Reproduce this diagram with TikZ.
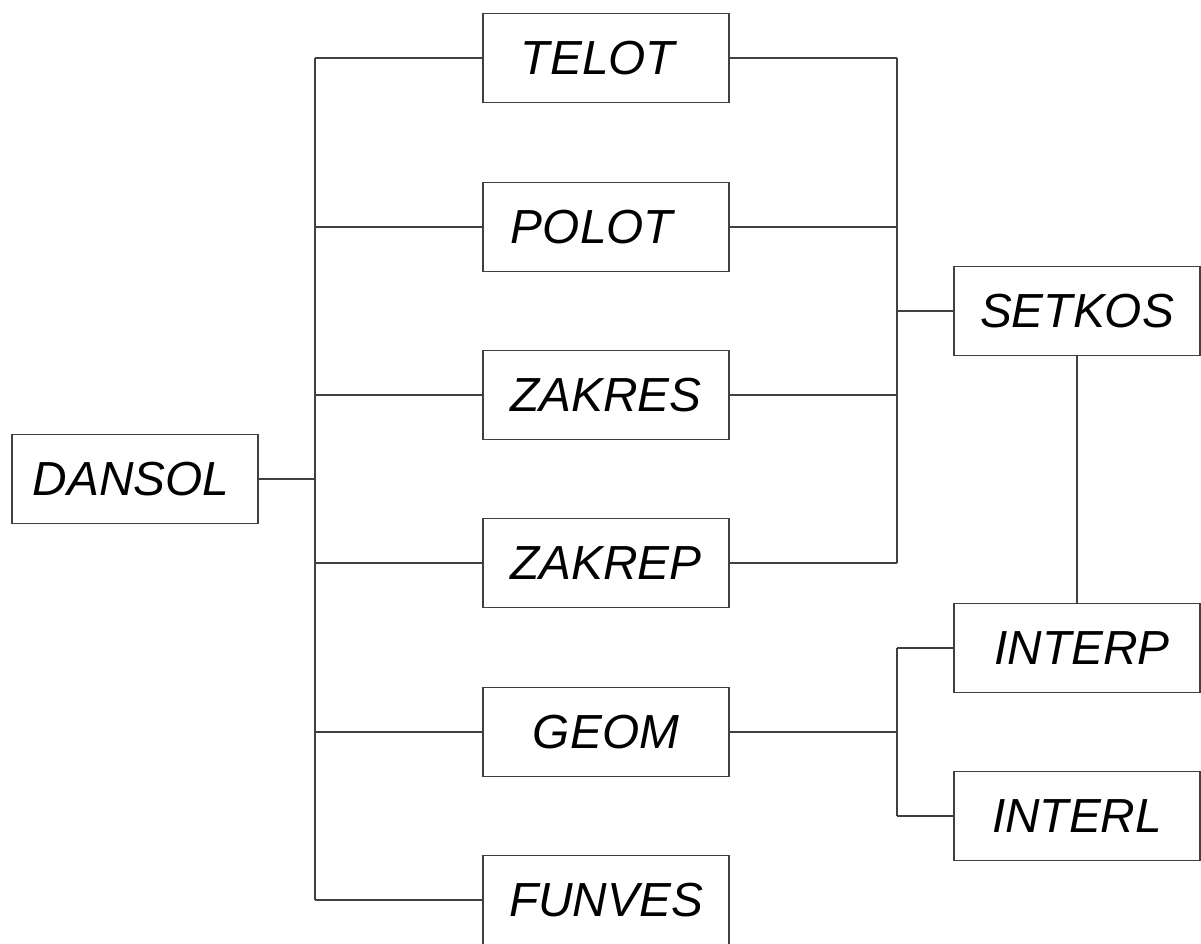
\documentclass[tikz,border=0pt]{standalone}
\usepackage{fontspec}
\setmainfont{Liberation Sans}
\usepackage{tikz}
\usetikzlibrary{positioning, calc}

\begin{document}
\begin{tikzpicture}[x=0.025cm, y=-0.025cm,
    modbox/.style={draw=black!75, line width=1pt, minimum width=6.15cm, minimum height=2.225cm,
        inner sep=0pt, font=\itshape\fontsize{34}{40}\selectfont},
    link/.style={draw=black!75, line width=1pt}]
    \useasboundingbox (0,0) rectangle (1201,943);
    \clip (0,0) rectangle (1201,943);

    % Boxes
    \node[modbox] (dansol) at (135, 479) {DANSOL\kern0.2cm};

    \node[modbox] (telot)  at (606, 58)  {TELOT\kern0.4cm};
    \node[modbox] (polot)  at (606, 227) {POLOT\kern0.7cm};
    \node[modbox] (zakres) at (606, 395) {ZAKRES};
    \node[modbox] (zakrep) at (606, 563) {ZAKREP};
    \node[modbox] (geom)   at (606, 732) {GEOM};
    \node[modbox] (funves) at (606, 900) {FUNVES};

    \node[modbox] (setkos) at (1077, 311) {SETKOS};
    \node[modbox] (interp) at (1077, 648) {\kern0.25cm INTERP};
    \node[modbox] (interl) at (1077, 816) {INTERL};

    % Buses
    \coordinate (lbus) at (315, 0);
    \coordinate (rbus) at (897, 0);

    % Left side
    \draw [link] (dansol.east) -- (dansol.east -| lbus);
    \draw [link] (telot.west -| lbus) -- (funves.west -| lbus);
    \foreach \n in {telot, polot, zakres, zakrep, geom, funves}
        \draw [link] (\n.west -| lbus) -- (\n.west);

    % Right side
    \draw [link] (telot.east -| rbus) -- (zakrep.east -| rbus);
    \foreach \n in {telot, polot, zakres, zakrep}
        \draw [link] (\n.east) -- (\n.east -| rbus);
    \draw [link] (setkos.west -| rbus) -- (setkos.west);

    % Interpolation
    \draw [link] (geom.east) -- (geom.east -| rbus);
    \draw [link] (interp.west -| rbus) -- (interl.west -| rbus);
    \draw [link] (interp.west -| rbus) -- (interp.west);
    \draw [link] (interl.west -| rbus) -- (interl.west);
    \draw [link] (setkos.south) -- (interp.north);

\end{tikzpicture}
\end{document}
